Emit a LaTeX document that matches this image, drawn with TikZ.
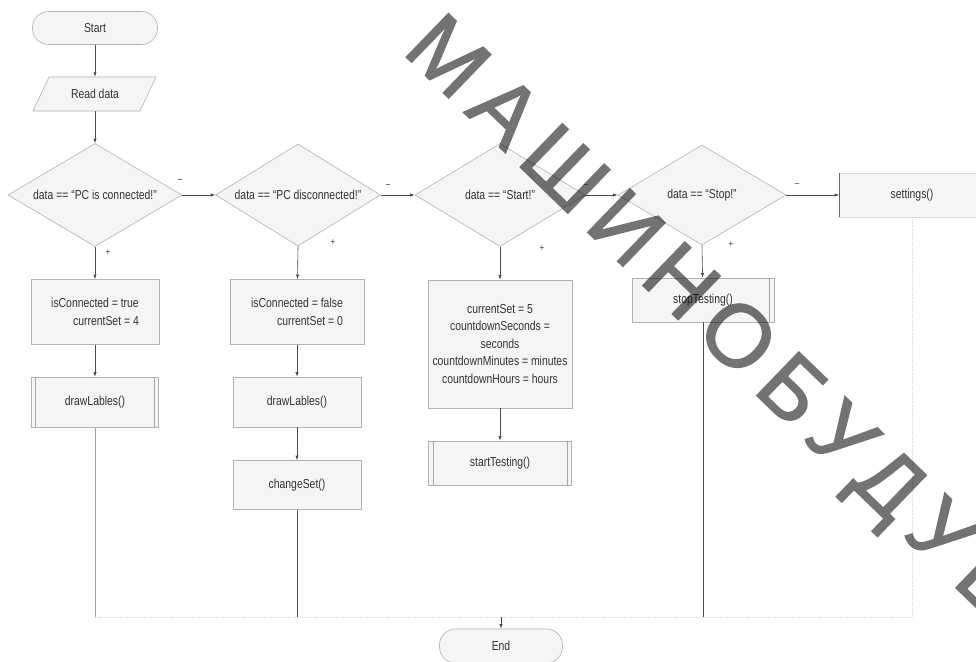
\documentclass[tikz,border=0pt]{standalone}
\usepackage{fontspec}
\setmainfont{Liberation Sans}[FakeStretch=0.8]
\newfontfamily\wmfont{Liberation Sans}[FakeBold=1.6,LetterSpace=15]
\usetikzlibrary{arrows.meta,shapes.geometric,calc}
\begin{document}
\begin{tikzpicture}[x=1pt,y=-1pt,
  every node/.style={font=\fontsize{13}{18}\selectfont, text=black!80, inner sep=0pt},
  shp/.style={draw=gray!60, fill=gray!8, line width=0.6pt},
  term/.style={shp, rectangle, rounded corners=16pt},
  dia/.style={shp, diamond, aspect=1.7},
  pbox/.style={shp, rectangle},
  lbl/.style={font=\fontsize{10}{10}\selectfont, text=black!75},
  arr/.style={draw=black!70, line width=0.6pt, -{Latex[length=4.5pt,width=3.2pt]}},
  ln/.style={draw=black!70, line width=0.6pt},
  faint/.style={draw=gray!30, line width=0.8pt, densely dotted}]
\useasboundingbox (0,0) rectangle (976,661);
\clip (0,0) rectangle (976,661);
\fill[white] (0,0) rectangle (976,661);

% start and input
\node[term, minimum width=125, minimum height=33] (start) at (95,28) {Start};
\filldraw[shp] (49,77) -- (156,77) -- (140,111) -- (33,111) -- cycle;
\node[minimum width=100, minimum height=34] (read) at (95,94) {Read data};

% decisions
\node[dia, minimum width=174, minimum height=103] (d1) at (95,195) {data == “PC is connected!”};
\node[dia, minimum width=165, minimum height=102] (d2) at (298,195) {data == “PC disconnected!”};
\node[dia, minimum width=170, minimum height=103] (d3) at (500,195) {data == “Start!”};
\node[dia, minimum width=168, minimum height=100] (d4) at (702,195) {data == “Stop!”};
\node[shp, rectangle, draw=gray!30, minimum width=145, minimum height=44] (set) at (912,195) {settings()};
\draw[black!60, line width=0.7pt] (set.north west) -- (set.south west);

% labels
\node[lbl] (m1) at (180,181) {–};
\node[lbl] (m2) at (388,186) {–};
\node[lbl] (m3) at (586,186) {–};
\node[lbl] (m4) at (797,185) {–};
\node[lbl] (p1l) at (108,253) {+};
\node[lbl] (p2l) at (333,243) {+};
\node[lbl] (p3l) at (542,249) {+};
\node[lbl] (p4l) at (731,245) {+};

% column 1
\node[pbox, minimum width=128, minimum height=65, align=right] (b1) at (95,312) {isConnected = true\\currentSet = 4};
\node[pbox, minimum width=127, minimum height=50] (p1) at (95,402) {drawLables()};
\draw[gray!70, line width=0.6pt] ([xshift=4]p1.north west) -- ([xshift=4]p1.south west)
  ([xshift=-5]p1.north east) -- ([xshift=-5]p1.south east);

% column 2
\node[pbox, minimum width=134, minimum height=65, align=right] (b2) at (297,312) {isConnected = false\\currentSet = 0};
\node[pbox, minimum width=128, minimum height=50] (p2) at (297,402) {drawLables()};
\node[pbox, minimum width=128, minimum height=49] (c2) at (297,485) {changeSet()};

% column 3
\node[pbox, minimum width=144, minimum height=128, align=center, font=\fontsize{13}{17.5}\selectfont] (b3) at (500,344)
  {currentSet = 5\\countdownSeconds =\\seconds\\countdownMinutes = minutes\\countdownHours = hours};
\node[pbox, minimum width=143, minimum height=44] (s3) at (500,463) {startTesting()};
\draw[gray!70, line width=0.6pt] ([xshift=5]s3.north west) -- ([xshift=5]s3.south west)
  ([xshift=-5]s3.north east) -- ([xshift=-5]s3.south east);

% column 4
\node[pbox, minimum width=142, minimum height=44] (s4) at (703,300) {stopTesting()};
\draw[gray!70, line width=0.6pt] ([xshift=-5]s4.north east) -- ([xshift=-5]s4.south east);

% end
\node[term, minimum width=123, minimum height=34] (end) at (501,646) {End};
\coordinate (mg) at (501,617);

% connectors
\draw[arr] (start) -- (read);
\draw[arr] (read) -- (d1.north);
\draw[arr] (d1.east) -- (d2.west);
\draw[arr] (d2.east) -- (d3.west);
\draw[arr] (d3.east) -- (d4.west);
\draw[arr] (d4.east) -- (set.west);
\draw[arr] (d1.south) -- (b1);
\draw[arr] (b1) -- (p1);
\draw[arr] (d2.south) -- (b2);
\draw[arr] (b2) -- (p2);
\draw[arr] (p2) -- (c2);
\draw[arr] (d3.south) -- (b3);
\draw[arr] (b3) -- (s3);
\draw[arr] (d4.south) -- (s4);
\draw[faint] (p1 |- mg) -- (set |- mg);
\draw[faint] (set) -- (set |- mg);
\draw[ln, draw=gray!70] (p1) -- (p1 |- mg);
\draw[ln] (c2) -- (c2 |- mg);
\draw[ln] (s4) -- (s4 |- mg);
\draw[arr] (mg) -- (end);

% watermark
\begin{scope}[transparency group, opacity=0.55]
\node[anchor=base west, rotate=-44, inner sep=0pt, text=black,
  font=\wmfont\fontsize{88}{88}\selectfont] (wm) at (401,52) {МАШИНОБУДУВАННЯ};
\end{scope}
\end{tikzpicture}
\end{document}
